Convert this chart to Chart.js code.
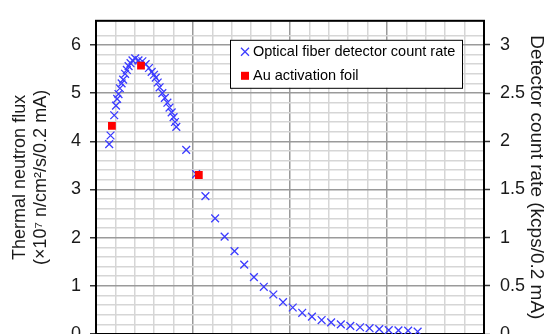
<!DOCTYPE html>
<html>
<head>
<meta charset="utf-8">
<script src="https://cdn.jsdelivr.net/npm/chart.js@4/dist/chart.umd.min.js"></script>
<style>
  html, body { margin: 0; padding: 0; background: #fff; width: 546px; height: 334px; overflow: hidden; }
</style>
</head>
<body>
<canvas id="myChart" width="546" height="360"></canvas>
<script>
// Optical fiber detector (right axis, kcps/0.2 mA)
const fiberX = [6.8, 7.5, 9.4, 10.3, 10.9, 11.6, 12.3, 13.2, 14.0, 15.0, 15.9, 16.8, 17.8, 18.8, 20.2,
  21.9, 23.9, 25.6, 27.3, 28.7, 29.9, 30.8, 31.8, 32.8, 34.2, 35.5, 36.8, 37.9, 39.0, 40.0, 40.7, 41.4,
  46.5, 51.6, 56.4, 61.4, 66.3, 71.4, 76.4, 81.4, 86.5, 91.4, 96.4, 101.4, 106.3, 111.3, 116.3, 121.2,
  126.2, 131.1, 136.1, 141.0, 146.0, 150.9, 155.9, 160.9, 165.8];
const fiberRate = [1.97, 2.06, 2.27, 2.37, 2.44, 2.49, 2.55, 2.60, 2.64, 2.70, 2.74, 2.78, 2.81, 2.84, 2.86,
  2.84, 2.83, 2.80, 2.76, 2.72, 2.69, 2.66, 2.61, 2.56, 2.50, 2.45, 2.40, 2.35, 2.30, 2.25, 2.20, 2.15,
  1.91, 1.66, 1.43, 1.20, 1.01, 0.86, 0.72, 0.59, 0.49, 0.41, 0.33, 0.275, 0.22, 0.18, 0.145, 0.12,
  0.10, 0.085, 0.07, 0.06, 0.05, 0.04, 0.037, 0.035, 0.025];

// Au activation foil (left axis, x10^7 n/cm2/s/0.2 mA)
const foilX = [8.2, 23.2, 53.0];
const foilFlux = [4.32, 5.57, 3.30];

// labelled ticks
const fluxTicks = [0, 1, 2, 3, 4, 5, 6];
const rateTicks = [0, 0.5, 1, 1.5, 2, 2.5, 3];

const fiberPts = fiberX.map((x, i) => ({x: x, y: fiberRate[i]}));
const foilPts = foilX.map((x, i) => ({x: x, y: foilFlux[i]}));

const tickFont = {family: '"Liberation Sans", Arial, sans-serif', size: 18};
const isMajor = v => Math.abs(v - Math.round(v)) < 1e-6;

// black frame round the plot area
const frame = {
  id: 'frame',
  beforeDatasetsDraw(chart) {
    const {ctx, chartArea: a} = chart;
    ctx.save();
    ctx.strokeStyle = '#000';
    ctx.lineWidth = 2;
    ctx.strokeRect(a.left, a.top, a.right - a.left, a.bottom - a.top);
    ctx.restore();
  }
};

// legend with a box, inside the plot
const boxLegend = {
  id: 'boxLegend',
  afterDraw(chart) {
    const {ctx, chartArea: a} = chart;
    const left = a.left + 134, top = a.top + 19, w = 232, h = 48;
    ctx.save();
    ctx.fillStyle = '#fff';
    ctx.fillRect(left, top, w, h);
    ctx.strokeStyle = '#000';
    ctx.lineWidth = 1;
    ctx.strokeRect(left + 0.5, top + 0.5, w, h);
    ctx.font = '14.5px "Liberation Sans", Arial, sans-serif';
    ctx.textBaseline = 'middle';
    ctx.fillStyle = '#000';
    const ds = chart.data.datasets;
    // row 1: cross
    let cy = top + 12;
    ctx.strokeStyle = ds[0].borderColor;
    ctx.lineWidth = 1.3;
    ctx.beginPath();
    ctx.moveTo(left + 11, cy - 4); ctx.lineTo(left + 19, cy + 4);
    ctx.moveTo(left + 19, cy - 4); ctx.lineTo(left + 11, cy + 4);
    ctx.stroke();
    ctx.fillText(ds[0].label, left + 23, cy);
    // row 2: square
    cy = top + 36;
    ctx.fillStyle = ds[1].backgroundColor;
    ctx.fillRect(left + 11, cy - 4, 8, 8);
    ctx.fillStyle = '#000';
    ctx.fillText(ds[1].label, left + 23, cy);
    ctx.restore();
  }
};

new Chart(document.getElementById('myChart'), {
  type: 'scatter',
  data: {
    datasets: [{
      label: 'Optical fiber detector count rate',
      data: fiberPts,
      yAxisID: 'yR',
      pointStyle: 'crossRot',
      pointRadius: 5.5,
      pointBorderWidth: 1.3,
      borderColor: 'rgb(60, 60, 255)',
      backgroundColor: 'rgb(60, 60, 255)',
      order: 1
    }, {
      label: 'Au activation foil',
      data: foilPts,
      yAxisID: 'y',
      pointStyle: 'rect',
      pointRadius: 5.5,
      pointBorderWidth: 0,
      borderColor: 'rgb(255, 0, 0)',
      backgroundColor: 'rgb(255, 0, 0)',
      order: 0
    }]
  },
  options: {
    responsive: false,
    animation: false,
    layout: { padding: {top: 13, left: 0, right: 0, bottom: 0} },
    plugins: {
      legend: { display: false },
      tooltip: { enabled: false }
    },
    scales: {
      x: {
        type: 'linear',
        position: 'bottom',
        min: 0,
        max: 200,
        ticks: { stepSize: 10, display: false, autoSkip: false },
        grid: {
          drawTicks: false,
          lineWidth: 1.5,
          color: c => (Math.round(c.tick.value) % 50 === 0) ? '#9a9a9a' : '#d6d6d6'
        },
        border: { display: false },
        afterFit: s => { s.height = 26; }
      },
      y: {
        position: 'left',
        min: 0,
        max: 6.5,
        ticks: {
          stepSize: 0.2,
          autoSkip: false,
          padding: 9,
          color: '#1a1a1a',
          font: tickFont,
          callback: v => fluxTicks.some(t => Math.abs(t - v) < 1e-6) ? String(Math.round(v)) : ''
        },
        grid: {
          lineWidth: 1.5,
          tickLength: 6,
          tickWidth: 1.5,
          tickColor: c => isMajor(c.tick.value) ? '#333' : 'rgba(0,0,0,0)',
          color: c => isMajor(c.tick.value) ? '#9a9a9a' : '#d6d6d6'
        },
        border: { color: '#000', width: 2 },
        title: {
          display: true,
          text: ['Thermal neutron flux', '(\u00d710\u2077 n/cm\u00b2/s/0.2 mA)'],
          color: '#1a1a1a',
          font: {family: '"Liberation Sans", Arial, sans-serif', size: 18, lineHeight: 1.2},
          padding: {top: 9, bottom: 0}
        },
        afterFit: s => { s.width = 96; }
      },
      yR: {
        position: 'right',
        min: 0,
        max: 3.25,
        ticks: {
          stepSize: 0.5,
          autoSkip: false,
          padding: 10,
          color: '#1a1a1a',
          font: tickFont,
          callback: v => rateTicks.some(t => Math.abs(t - v) < 1e-6) ? String(v) : ''
        },
        grid: {
          drawOnChartArea: false,
          tickLength: 6,
          tickWidth: 1.5,
          tickColor: c => rateTicks.some(t => Math.abs(t - c.tick.value) < 1e-6) ? '#333' : 'rgba(0,0,0,0)'
        },
        border: { color: '#000', width: 2 },
        title: {
          display: true,
          text: 'Detector count rate (kcps/0.2 mA)',
          color: '#1a1a1a',
          font: {family: '"Liberation Sans", Arial, sans-serif', size: 19, lineHeight: 1},
          padding: {top: 0, bottom: 0}
        },
        afterFit: s => { s.width = 62; }
      }
    }
  },
  plugins: [frame, boxLegend]
});
</script>
</body>
</html>
